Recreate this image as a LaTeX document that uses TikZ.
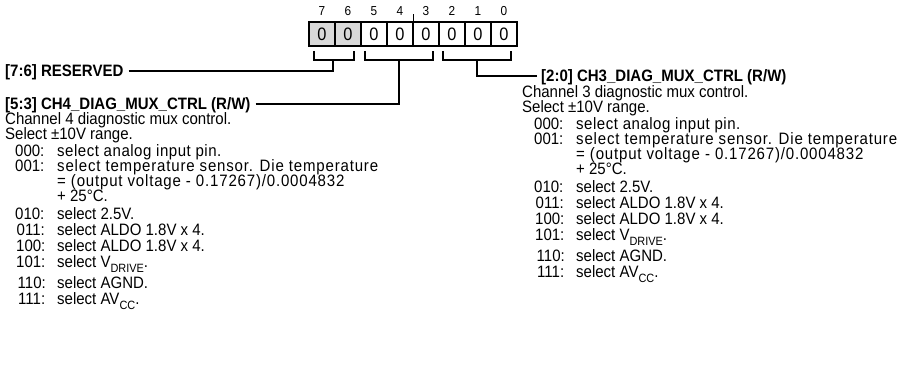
\documentclass[tikz,border=0pt]{standalone}
\usepackage{fontspec}
\setmainfont{Liberation Sans}[FakeStretch=0.91]
\definecolor{boxgray}{HTML}{D9D9D9}
\newcommand{\subtxt}[1]{\raisebox{-4.5pt}{\fontsize{12}{13}\selectfont #1}}
\newcommand{\wide}[2]{{\addfontfeature{LetterSpace=#1}#2}}
\newcommand{\muxcol}[5]{%
\begin{scope}[shift={(#2,#3)}]
 \node[txt] (#1d1) at (0,0) {Channel #4 diagnostic mux control.};
 \node[txt] (#1d2) at (0,15) {Select ±10V range.};
 \node[txt] (#1c0) at (#5,32) {000:};   \node[txt] (#1t0) at (#5+42,32) {\wide{3.2}{select analog input pin.}};
 \node[txt] (#1c1) at (#5,47) {001:};   \node[txt] (#1t1) at (#5+42,47) {\wide{5}{select temperature sensor. Die temperature}};
 \node[txt] (#1e1) at (#5+42,62) {\wide{5}{= (output voltage - 0.17267)/0.0004832}};
 \node[txt] (#1e2) at (#5+42,77) {+ 25°C.};
 \node[txt] (#1c2) at (#5,95) {010:};   \node[txt] (#1t2) at (#5+42,95) {select 2.5V.};
 \node[txt] (#1c3) at (#5+1.5,111) {011:}; \node[txt] (#1t3) at (#5+42,111) {select ALDO 1.8V x 4.};
 \node[txt] (#1c4) at (#5+1,127) {100:};   \node[txt] (#1t4) at (#5+42,127) {select ALDO 1.8V x 4.};
 \node[txt] (#1c5) at (#5+1,143) {101:};   \node[txt] (#1t5) at (#5+42,143) {select V\subtxt{DRIVE}.};
 \node[txt] (#1c6) at (#5+2.5,164) {110:}; \node[txt] (#1t6) at (#5+42,164) {select AGND.};
 \node[txt] (#1c7) at (#5+3,180) {111:};   \node[txt] (#1t7) at (#5+42,180) {select AV\subtxt{CC}.};
\end{scope}}
\begin{document}
\begin{tikzpicture}[x=1pt,y=-1pt,
  txt/.style={anchor=west,inner sep=0pt,text height=11.8pt,text depth=0pt,font=\fontsize{16.5}{18}\selectfont},
  hd/.style={txt,font=\fontsize{16.5}{18}\selectfont\bfseries},
  bitbox/.style={draw,line width=1.7pt,minimum width=26pt,minimum height=24pt,inner sep=0pt,font=\fontsize{18}{20}\selectfont},
  rsv/.style={bitbox,fill=boxgray},
  bitnum/.style={inner sep=0pt,font=\fontsize{13}{14}\selectfont},
  conn/.style={line width=1.6pt}]
\useasboundingbox (0,0) rectangle (906,369);
% register
\foreach \b/\s [count=\i from 0] in {7/rsv,6/rsv,5/bitbox,4/bitbox,3/bitbox,2/bitbox,1/bitbox,0/bitbox}{
  \node[\s] (b\b) at (322+26*\i,34) {0};
  \node[bitnum] (n\b) at (322+26*\i,11) {\b};
}
\draw[line width=1.2pt] (b4.north east) -- ++(0,-7);
% brackets
\draw[conn] (314,51) |- (354,60) -- (354,51);
\draw[conn] (365,51) |- (433,60) -- (433,51);
\draw[conn] (443,51) |- (511,60) -- (511,51);
\coordinate (s76) at (333,60);
\coordinate (s53) at (399,60);
\coordinate (s20) at (477,60);
% headings
\node[hd] (h76) at (5,71) {[7:6] RESERVED};
\node[hd] (h53) at (5,104) {[5:3] CH4\_DIAG\_MUX\_CTRL (R/W)};
\node[hd] (h20) at (541,76) {[2:0] CH3\_DIAG\_MUX\_CTRL (R/W)};
\draw[conn] ([xshift=5pt]h76.east) -| (s76);
\draw[conn] ([xshift=5pt]h53.east) -| (s53);
\draw[conn] ([xshift=-4pt]h20.west) -| (s20);
% descriptions
\muxcol{L}{5}{119}{4}{10}
\muxcol{R}{522}{92}{3}{12}
\end{tikzpicture}
\end{document}
